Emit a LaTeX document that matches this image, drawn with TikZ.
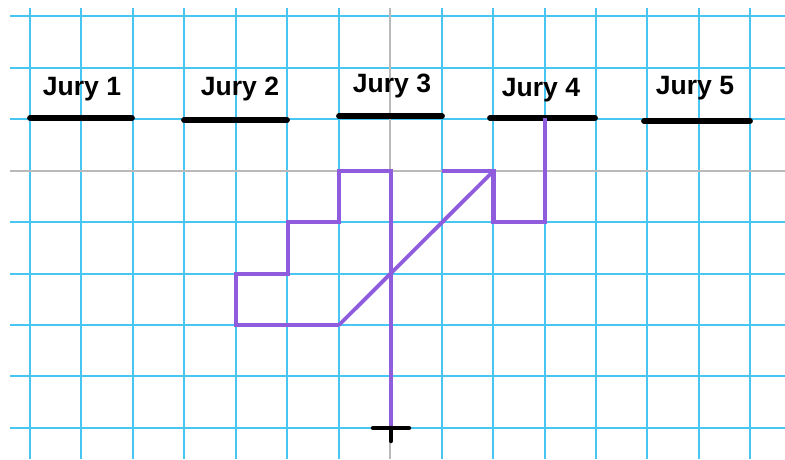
\documentclass[tikz,border=0pt]{standalone}
\usepackage{fontspec}
\setmainfont{Liberation Sans}
\definecolor{gridblue}{RGB}{70,198,240}
\definecolor{gridgray}{RGB}{185,185,185}
\definecolor{pathpurple}{RGB}{142,92,220}
\tikzset{
  gridline/.style={draw=gridblue,line width=2pt},
  axisline/.style={draw=gridgray,line width=1.8pt},
  jurybar/.style={draw=black,line width=5.8pt,line cap=round},
  jurylabel/.style={font=\fontsize{26.5}{30}\selectfont\bfseries,inner sep=0pt},
  walk/.style={draw=pathpurple,line width=4.8pt,line join=miter},
  diag/.style={draw=pathpurple,line width=3.8pt}
}
\begin{document}
\begin{tikzpicture}[x=1pt,y=-1pt]
\useasboundingbox[fill=white] (0,0) rectangle (785,459);
% grid
\foreach \i in {0,...,14}{
  \ifnum\i=7\else
  \draw[gridline] ({30+51.45*\i},8) -- ({30+51.45*\i},459);
  \fi
}
\foreach \j in {0,...,8}{
  \ifnum\j=3\else
  \draw[gridline] (10,{16.3+51.45*\j}) -- (785,{16.3+51.45*\j});
  \fi
}
\draw[axisline] (390.2,8) -- (390.2,459);
\draw[axisline] (10,170.6) -- (785,170.6);
% jury bars
\draw[jurybar] (30,118) -- (132,118);
\draw[jurybar] (184,120) -- (287,120);
\draw[jurybar] (339,116) -- (442,116);
\draw[jurybar] (490,118) -- (595,118);
\draw[jurybar] (644,121) -- (750,121);
% labels
\node[jurylabel] (j1) at (82,89) {Jury 1};
\node[jurylabel] (j2) at (240,89) {Jury 2};
\node[jurylabel] (j3) at (392,86) {Jury 3};
\node[jurylabel] (j4) at (541,90) {Jury 4};
\node[jurylabel] (j5) at (695,88) {Jury 5};
% purple walk
\coordinate (a) at (442,171);
\coordinate (b) at (493.5,171);
\coordinate (c) at (493.5,222);
\coordinate (d) at (545,222);
\coordinate (e) at (545,118);
\coordinate (f) at (339,325);
\coordinate (g) at (236,325);
\coordinate (h) at (236,274);
\coordinate (k) at (288,274);
\coordinate (l) at (288,222);
\coordinate (m) at (339,222);
\coordinate (n) at (339,171);
\coordinate (o) at (391,171);
\coordinate (p) at (391,428);
\draw[diag] (b) -- (f);
\draw[walk] (a) -- (b) -- (c) -- (d) -- (e);
\draw[walk] (f) -- (g) -- (h) -- (k) -- (l) -- (m) -- (n) -- (o) -- (p);
% end mark
\coordinate (q1) at (373,428);
\coordinate (q2) at (409,428);
\coordinate (q3) at (391,441);
\draw[black,line width=4.5pt,line cap=round] (q1) -- (q2);
\draw[black,line width=4.5pt,line cap=round] (p) -- (q3);
\end{tikzpicture}
\end{document}
